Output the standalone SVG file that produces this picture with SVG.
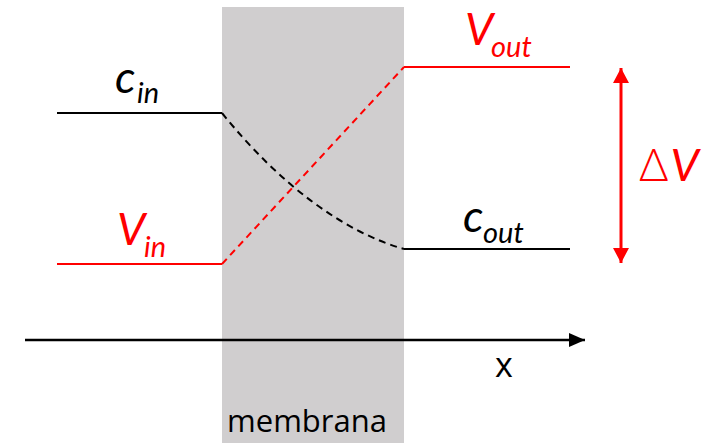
<svg xmlns="http://www.w3.org/2000/svg" width="702" height="443" viewBox="0 0 702 443">
<style>
.big{font-family:Lato,"Open Sans","Liberation Sans",sans-serif;font-style:italic;font-size:45px}
.sub{font-family:Lato,"Open Sans","Liberation Sans",sans-serif;font-style:italic;font-size:29px}
.red{fill:#ff0000}
.blk{fill:#000000}
.plain{font-family:"Open Sans","Liberation Sans",sans-serif;font-size:31px;fill:#000}
.lvl{fill:none;stroke-width:2}
</style>
<defs>
<marker id="ahB" markerWidth="16" markerHeight="14" refX="16" refY="7" orient="auto" markerUnits="userSpaceOnUse">
<path d="M0,0 L16,7 L0,14 Z" fill="#000"/>
</marker>
<marker id="ahR" markerWidth="16" markerHeight="16" refX="15" refY="8" orient="auto-start-reverse" markerUnits="userSpaceOnUse">
<path d="M0,0 L15,8 L0,16 Z" fill="#ff0000"/>
</marker>
</defs>
<g id="membrane">
<rect x="222" y="7" width="182" height="436" fill="#d0cecf"/>
<text class="plain" x="307" y="432" text-anchor="middle">membrana</text>
</g>
<g id="connectors">
<line x1="57" y1="113" x2="222" y2="113" stroke="#000" class="lvl"/>
<path d="M222,113 C280,185 344,232 404,249" fill="none" stroke="#000" stroke-width="2" stroke-dasharray="7,5"/>
<line x1="404" y1="249" x2="570" y2="249" stroke="#000" class="lvl"/>
<line x1="57" y1="264" x2="222" y2="264" stroke="#ff0000" class="lvl"/>
<line x1="222" y1="264" x2="404" y2="67" stroke="#ff0000" stroke-width="2" stroke-dasharray="7,5"/>
<line x1="404" y1="67" x2="570" y2="67" stroke="#ff0000" class="lvl"/>
<line x1="25" y1="340" x2="585" y2="340" stroke="#000" stroke-width="2.5" marker-end="url(#ahB)"/>
<line x1="621" y1="68" x2="621" y2="263" stroke="#ff0000" stroke-width="3" marker-start="url(#ahR)" marker-end="url(#ahR)"/>
</g>
<g id="c_in">
<text class="big blk" x="115" y="93">c</text>
<text class="sub blk" x="137" y="103">in</text>
</g>
<g id="V_in">
<text class="big red" x="117" y="245">V</text>
<text class="sub red" x="144" y="257">in</text>
</g>
<g id="V_out">
<text class="big red" x="465" y="45">V</text>
<text class="sub red" x="491" y="57">out</text>
</g>
<g id="c_out">
<text class="big blk" x="463" y="232">c</text>
<text class="sub blk" x="483" y="243">out</text>
</g>
<g id="deltaV">
<text class="red" x="639" y="181" font-family="Lato,'Open Sans',sans-serif" font-size="45"><tspan font-weight="300">Δ</tspan><tspan font-style="italic" dx="2">V</tspan></text>
</g>
<g id="x_label">
<text x="504" y="377" text-anchor="middle" font-family="'Open Sans','Liberation Sans',sans-serif" font-size="34" fill="#000">x</text>
</g>
</svg>
